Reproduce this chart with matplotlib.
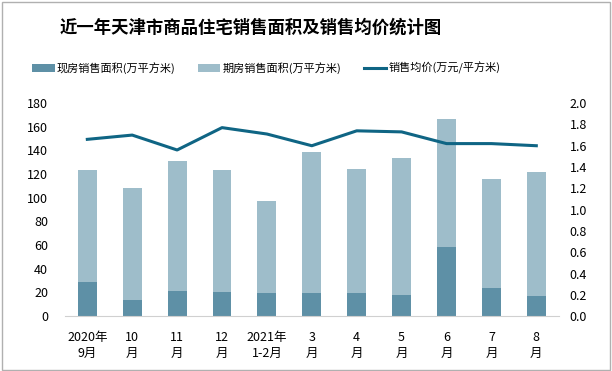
import matplotlib

matplotlib.use('Agg')
import matplotlib.pyplot as plt
import numpy as np
from matplotlib.patches import Rectangle

plt.rcParams['font.family'] = ['Noto Sans CJK SC', 'DejaVu Sans']

# Данные
months = ['2020年\n9月', '10\n月', '11\n月', '12\n月', '2021年\n1-2月', '3\n月',
          '4\n月', '5\n月', '6\n月', '7\n月', '8\n月']
spot_area = [28.6, 13.5, 21.6, 20.7, 19.1, 19.9, 19.9, 18.2, 58.6, 24.1, 17.4]
future_area = [94.8, 94.7, 109.4, 102.7, 78.2, 118.6, 104.3, 115.2, 107.7, 91.7, 104.3]
avg_price = [1.66, 1.70, 1.56, 1.77, 1.71, 1.60, 1.74, 1.73, 1.62, 1.62, 1.60]

c_spot = '#5e90a6'
c_future = '#9ebdca'
c_line = '#0f6584'

fig = plt.figure(figsize=(6.12, 3.71), dpi=100)
ax = fig.add_axes([0.106, 0.148, 0.807, 0.574])
ax2 = ax.twinx()

x = np.arange(len(months))
ax.bar(x, spot_area, width=0.42, color=c_spot, label='现房销售面积(万平方米)', zorder=2)
ax.bar(x, future_area, width=0.42, bottom=spot_area, color=c_future,
       label='期房销售面积(万平方米)', zorder=2)
ax2.plot(x, avg_price, color=c_line, linewidth=2.2, label='销售均价(万元/平方米)')

ax.set_xlim(-0.5, len(months) - 0.5)
ax.set_ylim(0, 180)
ax.set_yticks(np.arange(0, 181, 20))
ax2.set_ylim(0, 2.0)
ax2.set_yticks(np.arange(0, 2.01, 0.2))
ax2.set_yticklabels([f'{v:.1f}' for v in np.arange(0, 2.01, 0.2)])
ax.set_xticks(x)
ax.set_xticklabels(months, fontsize=9, linespacing=1.3)

for a in (ax, ax2):
    for s in ('top', 'left', 'right', 'bottom'):
        a.spines[s].set_visible(False)
    a.tick_params(length=0, labelsize=9)
ax.spines['bottom'].set_visible(True)
ax.spines['bottom'].set_color('#d0d0d0')
ax.tick_params(axis='x', pad=11)
ax.tick_params(axis='y', pad=12)
ax2.tick_params(axis='y', pad=8)

fig.text(0.41, 0.925, '近一年天津市商品住宅销售面积及销售均价统计图', ha='center', va='center',
         fontsize=12.5, fontweight='bold')

h1, l1 = ax.get_legend_handles_labels()
h2, l2 = ax2.get_legend_handles_labels()
fig.legend(h1 + h2, l1 + l2, loc='center', bbox_to_anchor=(0.435, 0.817), ncol=3,
           frameon=False, fontsize=8, handlelength=2.0, handletextpad=0.15,
           columnspacing=2.1)

fig.patches.append(Rectangle((0.003, 0.004), 0.994, 0.99, transform=fig.transFigure,
                             fill=False, edgecolor='#b0b0b0', linewidth=1))

plt.savefig('out.png', dpi=100)
